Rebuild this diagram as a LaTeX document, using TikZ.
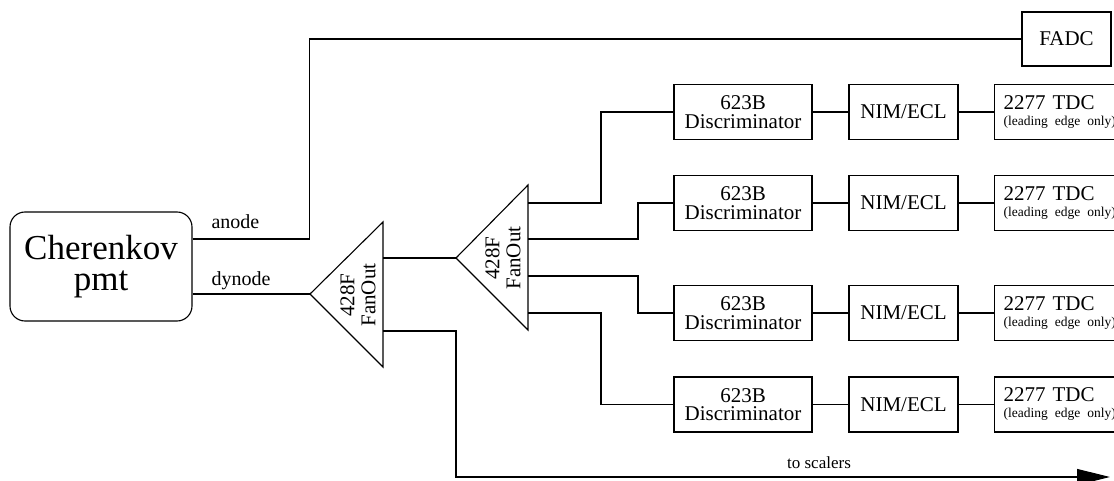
\documentclass[tikz,border=0pt]{standalone}
\usepackage{fontspec}
\setmainfont{Liberation Serif}
\usetikzlibrary{arrows.meta}

\begin{document}
\begin{tikzpicture}[x=1pt, y=-1pt, line width=1.1pt,
  unit/.style={draw, line width=1.1pt, inner sep=0pt, minimum height=55pt, align=center,
    font=\fontsize{21}{18.5}\selectfont},
  disc/.style={unit, minimum width=138pt},
  conv/.style={unit, minimum width=109pt},
  tdc/.style={unit, anchor=west, text width=150pt, inner xsep=9pt, align=left,
    font=\fontsize{21}{17}\selectfont},
  fanlabel/.style={rotate=90, align=center, font=\fontsize{21}{21}\selectfont, inner sep=0pt},
  sig/.style={font=\fontsize{20}{20}\selectfont, inner sep=0pt, anchor=base west},
  wire/.style={line width=1.1pt}
]
\useasboundingbox (0,0) rectangle (1114,481);
\clip (0,0) rectangle (1114,481);

% photomultiplier
\node[draw, rounded corners=15pt, minimum width=182pt, minimum height=109pt, inner sep=0pt,
  align=center, font=\fontsize{35}{31}\selectfont] (pmt) at (101,266.5) {Cherenkov\\pmt};

% flash ADC
\node[unit, minimum width=89pt, minimum height=54pt] (fadc) at (1066.5,39) {FADC};

% first fan-out
\coordinate (f1tip) at (310,294);
\coordinate (f1top) at (383,222);
\coordinate (f1bot) at (383,367);
\draw (f1tip) -- (f1top) -- (f1bot) -- cycle;
\node[fanlabel] (f1lab) at (358,295) {428F\\FanOut};
\coordinate (f1o1) at (383,258);
\coordinate (f1o2) at (383,331);

% second fan-out
\coordinate (f2tip) at (456,258);
\coordinate (f2top) at (528,185);
\coordinate (f2bot) at (528,330);
\draw (f2tip) -- (f2top) -- (f2bot) -- cycle;
\node[fanlabel] (f2lab) at (503,258) {428F\\FanOut};
\coordinate (f2o1) at (528,203);
\coordinate (f2o2) at (528,239);
\coordinate (f2o3) at (528,276);
\coordinate (f2o4) at (528,313);

% discriminator chains
\foreach \r/\y in {1/112, 2/203, 3/313, 4/404.5} {
  \node[disc] (d\r) at (743,\y) {623B\\Discriminator};
  \node[conv] (n\r) at (903.5,\y) {NIM/ECL};
  \node[tdc] (t\r) at (994,\y) {2277 TDC\\[-1pt]{\fontsize{13.5}{14}\selectfont\mbox{(leading edge only)}}};
  \draw[wire] (d\r) -- (n\r);
  \draw[wire] (n\r) -- (t\r);
}

% signal routing
\draw[wire] ([yshift=27.5pt]pmt.east) -- ++(117,0) |- (fadc.west);
\draw[wire] ([yshift=-27.5pt]pmt.east) -- (f1tip);
\node[sig] (lanode) at (211,229) {anode};
\node[sig] (ldynode) at (211,285) {dynode};

\draw[wire] (f1o1) -- (f2tip);
\coordinate (scalers) at (1110,477);
\draw[wire, -{Triangle[length=33pt, width=16pt]}] (f1o2) -- ++(73,0) |- (scalers);
\node[font=\fontsize{17}{17}\selectfont, inner sep=0pt] (lscal) at (819,463) {to scalers};

\draw[wire] (f2o1) -- ++(73,0) |- (d1.west);
\draw[wire] (f2o2) -- ++(110,0) |- (d2.west);
\draw[wire] (f2o3) -- ++(110,0) |- (d3.west);
\draw[wire] (f2o4) -- ++(73,0) |- (d4.west);
\end{tikzpicture}
\end{document}
